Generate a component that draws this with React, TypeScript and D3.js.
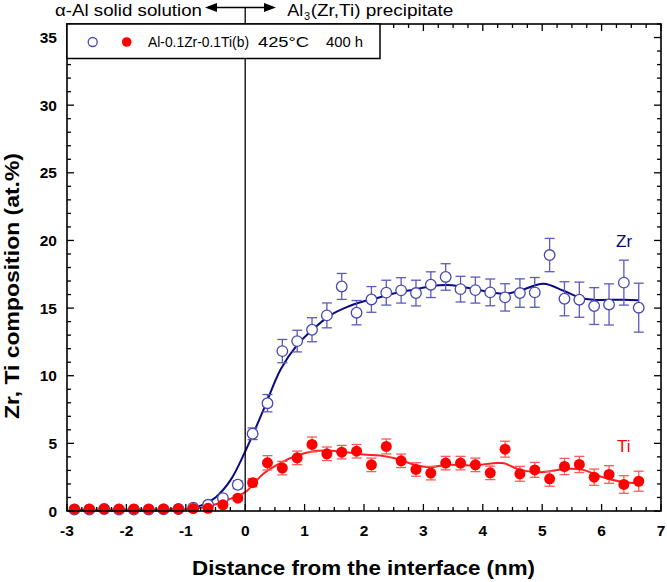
import React from 'react';
import * as d3 from 'd3';

// ---- data ----
const distance = [
  -2.875, -2.625, -2.375, -2.125, -1.875, -1.625, -1.375, -1.125, -0.875, -0.625, -0.375, -0.125,
  0.125, 0.375, 0.625, 0.875, 1.125, 1.375, 1.625, 1.875, 2.125, 2.375, 2.625, 2.875, 3.125,
  3.375, 3.625, 3.875, 4.125, 4.375, 4.625, 4.875, 5.125, 5.375, 5.625, 5.875, 6.125, 6.375, 6.625,
];
const zrValues = [
  0.1, 0.1, 0.15, 0.1, 0.1, 0.1, 0.12, 0.15, 0.25, 0.46, 0.95, 1.94,
  5.71, 7.97, 11.82, 12.56, 13.4, 14.46, 16.6, 14.66, 15.64, 16.14, 16.31, 16.11, 16.73,
  17.3, 16.4, 16.33, 16.16, 15.79, 16.11, 16.16, 18.92, 15.69, 15.62, 15.15, 15.27, 16.88, 15.03,
];
const zrErrors = [
  0.08, 0.08, 0.08, 0.08, 0.08, 0.08, 0.08, 0.1, 0.12, 0.15, 0.2, 0.28,
  0.43, 0.64, 0.86, 0.8, 0.89, 0.92, 0.96, 0.9, 0.95, 0.92, 0.94, 0.95, 0.95,
  0.98, 0.95, 0.96, 0.99, 1.01, 1.05, 1.1, 1.23, 1.26, 1.3, 1.36, 1.52, 1.66, 1.81,
];
const tiValues = [
  0.15, 0.15, 0.15, 0.15, 0.15, 0.15, 0.15, 0.15, 0.18, 0.2, 0.46, 0.95,
  2.09, 3.56, 3.17, 3.93, 4.92, 4.23, 4.35, 4.42, 3.41, 4.77, 3.71, 3.07, 2.8,
  3.54, 3.54, 3.41, 2.82, 4.57, 2.75, 3.04, 2.38, 3.29, 3.44, 2.5, 2.7, 1.96, 2.2,
];
const tiErrors = [
  0.1, 0.1, 0.1, 0.1, 0.1, 0.1, 0.1, 0.1, 0.1, 0.12, 0.15, 0.2,
  0.3, 0.53, 0.5, 0.5, 0.55, 0.5, 0.5, 0.5, 0.5, 0.55, 0.5, 0.5, 0.5,
  0.5, 0.5, 0.5, 0.5, 0.59, 0.55, 0.55, 0.55, 0.6, 0.6, 0.6, 0.65, 0.65, 0.74,
];
const zrFitX = [
  -2.9, -1.5, -1.0, -0.75, -0.5, -0.25, 0, 0.3, 0.6, 0.87, 1.15, 1.43, 1.71, 2.0, 2.27, 2.55,
  2.83, 3.11, 3.4, 3.62, 4.12, 4.38, 4.63, 5.02, 5.35, 5.64, 5.86, 6.37, 6.62,
];
const zrFitY = [
  0.05, 0.05, 0.15, 0.4, 1.0, 2.26, 4.4, 7.4, 10.5, 12.24, 13.47, 14.46, 15.07, 15.5, 15.8, 16.14,
  16.36, 16.6, 16.7, 16.6, 16.18, 16.06, 16.3, 16.8, 16.3, 15.77, 15.62, 15.62, 15.57,
];
const tiFitX = [
  -2.9, -1.5, -0.8, -0.51, -0.256, 0, 0.305, 0.59, 0.87, 1.15, 1.38, 1.71, 1.99, 2.27, 2.55,
  2.83, 3.11, 3.39, 3.84, 4.33, 4.63, 4.97, 5.41, 5.69, 5.98, 6.31, 6.62,
];
const tiFitY = [
  0.1, 0.12, 0.2, 0.48, 0.9, 1.39, 2.75, 3.54, 4.1, 4.42, 4.47, 4.35, 4.18, 4.1, 3.86,
  3.44, 3.24, 3.42, 3.37, 3.54, 3.04, 2.87, 3.12, 3.04, 2.55, 2.18, 2.05,
];
const xTickLabels = [-3, -2, -1, 0, 1, 2, 3, 4, 5, 6, 7];
const yTickLabels = [0, 5, 10, 15, 20, 25, 30, 35];

const FONT = "'Liberation Sans', Arial, Helvetica, sans-serif";
const ZR_LINE = '#0a0a80';
const ZR_MARK = '#4848b4';
const ZR_ERR = '#5a5ac0';
const TI_LINE = '#ff2020';
const TI_MARK = '#ff0000';
const TI_ERR = '#ff5a5a';

export default function App() {
  const W = 667;
  const H = 582;
  const left = 67, right = 661, top = 24, bottom = 511;
  const x = d3.scaleLinear().domain([-3, 7]).range([left, right]);
  const y = d3.scaleLinear().domain([0, 36]).range([bottom, top]);

  const xMinor = d3.range(-3, 7.001, 0.25).filter((v) => Math.abs(v - Math.round(v)) > 1e-6);
  const yMinor = d3.range(0, 36.001, 1).filter((v) => v % 5 !== 0);

  const line = d3
    .line<[number, number]>()
    .x((d) => x(d[0]))
    .y((d) => y(d[1]))
    .curve(d3.curveCatmullRom.alpha(0.5));

  const zrFit = line(zrFitX.map((v, i) => [v, zrFitY[i]]) as [number, number][]) || '';
  const tiFit = line(tiFitX.map((v, i) => [v, tiFitY[i]]) as [number, number][]) || '';

  const MAJ = 7, MIN = 4;
  const x0 = x(0);

  const errBar = (xv: number, v: number, e: number, color: string, key: string) => {
    const cx = x(xv);
    const y1 = y(v + e);
    const y2 = y(Math.max(0, v - e));
    return (
      <g key={key} stroke={color} strokeWidth={1.3}>
        <line x1={cx} x2={cx} y1={y1} y2={y2} />
        <line x1={cx - 5} x2={cx + 5} y1={y1} y2={y1} />
        <line x1={cx - 5} x2={cx + 5} y1={y2} y2={y2} />
      </g>
    );
  };

  return (
    <svg
      width={W}
      height={H}
      style={{ position: 'absolute', left: 0, top: 0, background: '#fff' }}
      fontFamily={FONT}
    >
      <rect x={0} y={0} width={W} height={H} fill="#fff" />

      {/* fit curves */}
      <path d={zrFit} fill="none" stroke={ZR_LINE} strokeWidth={2} />
      <path d={tiFit} fill="none" stroke={TI_LINE} strokeWidth={2} />

      {/* interface line + arrows */}
      <line x1={x0} x2={x0} y1={7.5} y2={bottom} stroke="#000" strokeWidth={1.3} />
      <line x1={212} x2={269} y1={7.5} y2={7.5} stroke="#000" strokeWidth={1.6} />
      <path d="M205,7.5 L217,3 L217,12 Z" fill="#000" />
      <path d="M276,7.5 L264,3 L264,12 Z" fill="#000" />

      {/* Zr points */}
      {distance.map((d, i) => errBar(d, zrValues[i], zrErrors[i], ZR_ERR, 'ze' + i))}
      {distance.map((d, i) => (
        <circle key={'zc' + i} cx={x(d)} cy={y(zrValues[i])} r={5.3} fill="#fff" stroke={ZR_MARK} strokeWidth={1.3} />
      ))}
      {/* Ti points */}
      {distance.map((d, i) => errBar(d, tiValues[i], tiErrors[i], TI_ERR, 'te' + i))}
      {distance.map((d, i) => (
        <circle key={'tc' + i} cx={x(d)} cy={y(tiValues[i])} r={5.5} fill={TI_MARK} />
      ))}

      {/* ticks */}
      <g stroke="#000" strokeWidth={1.3}>
        {xTickLabels.map((t) => (
          <g key={'xt' + t}>
            <line x1={x(t)} x2={x(t)} y1={bottom} y2={bottom - MAJ} />
            <line x1={x(t)} x2={x(t)} y1={top} y2={top + MAJ} />
          </g>
        ))}
        {xMinor.map((t) => (
          <g key={'xm' + t}>
            <line x1={x(t)} x2={x(t)} y1={bottom} y2={bottom - MIN} />
            <line x1={x(t)} x2={x(t)} y1={top} y2={top + MIN} />
          </g>
        ))}
        {yTickLabels.map((t) => (
          <g key={'yt' + t}>
            <line x1={left} x2={left + MAJ} y1={y(t)} y2={y(t)} />
            <line x1={right} x2={right - MAJ} y1={y(t)} y2={y(t)} />
          </g>
        ))}
        {yMinor.map((t) => (
          <g key={'ym' + t}>
            <line x1={left} x2={left + MIN} y1={y(t)} y2={y(t)} />
            <line x1={right} x2={right - MIN} y1={y(t)} y2={y(t)} />
          </g>
        ))}
      </g>

      {/* frame */}
      <rect x={left} y={top} width={right - left} height={bottom - top} fill="none" stroke="#000" strokeWidth={1.6} />

      {/* legend */}
      <rect x={left} y={top} width={313} height={34.5} fill="#fff" stroke="#000" strokeWidth={1.5} />
      <circle cx={92.7} cy={42} r={4.5} fill="#fff" stroke={ZR_MARK} strokeWidth={1.3} />
      <circle cx={126.7} cy={42} r={4.8} fill={TI_MARK} />
      <g fontSize={15} fill="#000">
        <text x={148} y={47} textLength={101} lengthAdjust="spacingAndGlyphs">Al-0.1Zr-0.1Ti(b)</text>
        <text x={258} y={47} textLength={51} lengthAdjust="spacingAndGlyphs">425°C</text>
        <text x={326} y={47} textLength={37} lengthAdjust="spacingAndGlyphs">400 h</text>
      </g>

      {/* tick labels */}
      <g fontSize={15.5} fontWeight="bold" fill="#000">
        {xTickLabels.map((t) => (
          <text key={'xl' + t} x={x(t)} y={536} textAnchor="middle">{t}</text>
        ))}
        {yTickLabels.map((t) => (
          <text key={'yl' + t} x={57} y={y(t) + 5.5} textAnchor="end">{t}</text>
        ))}
      </g>

      {/* top annotation */}
      <g fontSize={16.5} fill="#000">
        <text x={55} y={15.5} textLength={147} lengthAdjust="spacingAndGlyphs">α-Al solid solution</text>
        <text x={287.3} y={15.5} textLength={16} lengthAdjust="spacingAndGlyphs">Al</text>
        <text x={304} y={20} fontSize={11}>3</text>
        <text x={310.7} y={15.5} textLength={142.6} lengthAdjust="spacingAndGlyphs">(Zr,Ti) precipitate</text>
      </g>

      {/* series labels */}
      <text x={616} y={246.7} fontSize={17} fill={ZR_LINE}>Zr</text>
      <text x={617} y={451.7} fontSize={17} fill={TI_MARK}>Ti</text>

      {/* axis titles */}
      <text x={363.5} y={575} fontSize={19.5} fontWeight="bold" textAnchor="middle" textLength={343} lengthAdjust="spacingAndGlyphs">
        Distance from the interface  (nm)
      </text>
      <text
        transform={`translate(19,${286}) rotate(-90)`}
        fontSize={19.5}
        fontWeight="bold"
        textAnchor="middle"
        textLength={266}
        lengthAdjust="spacingAndGlyphs"
      >
        Zr, Ti composition  (at.%)
      </text>
    </svg>
  );
}
